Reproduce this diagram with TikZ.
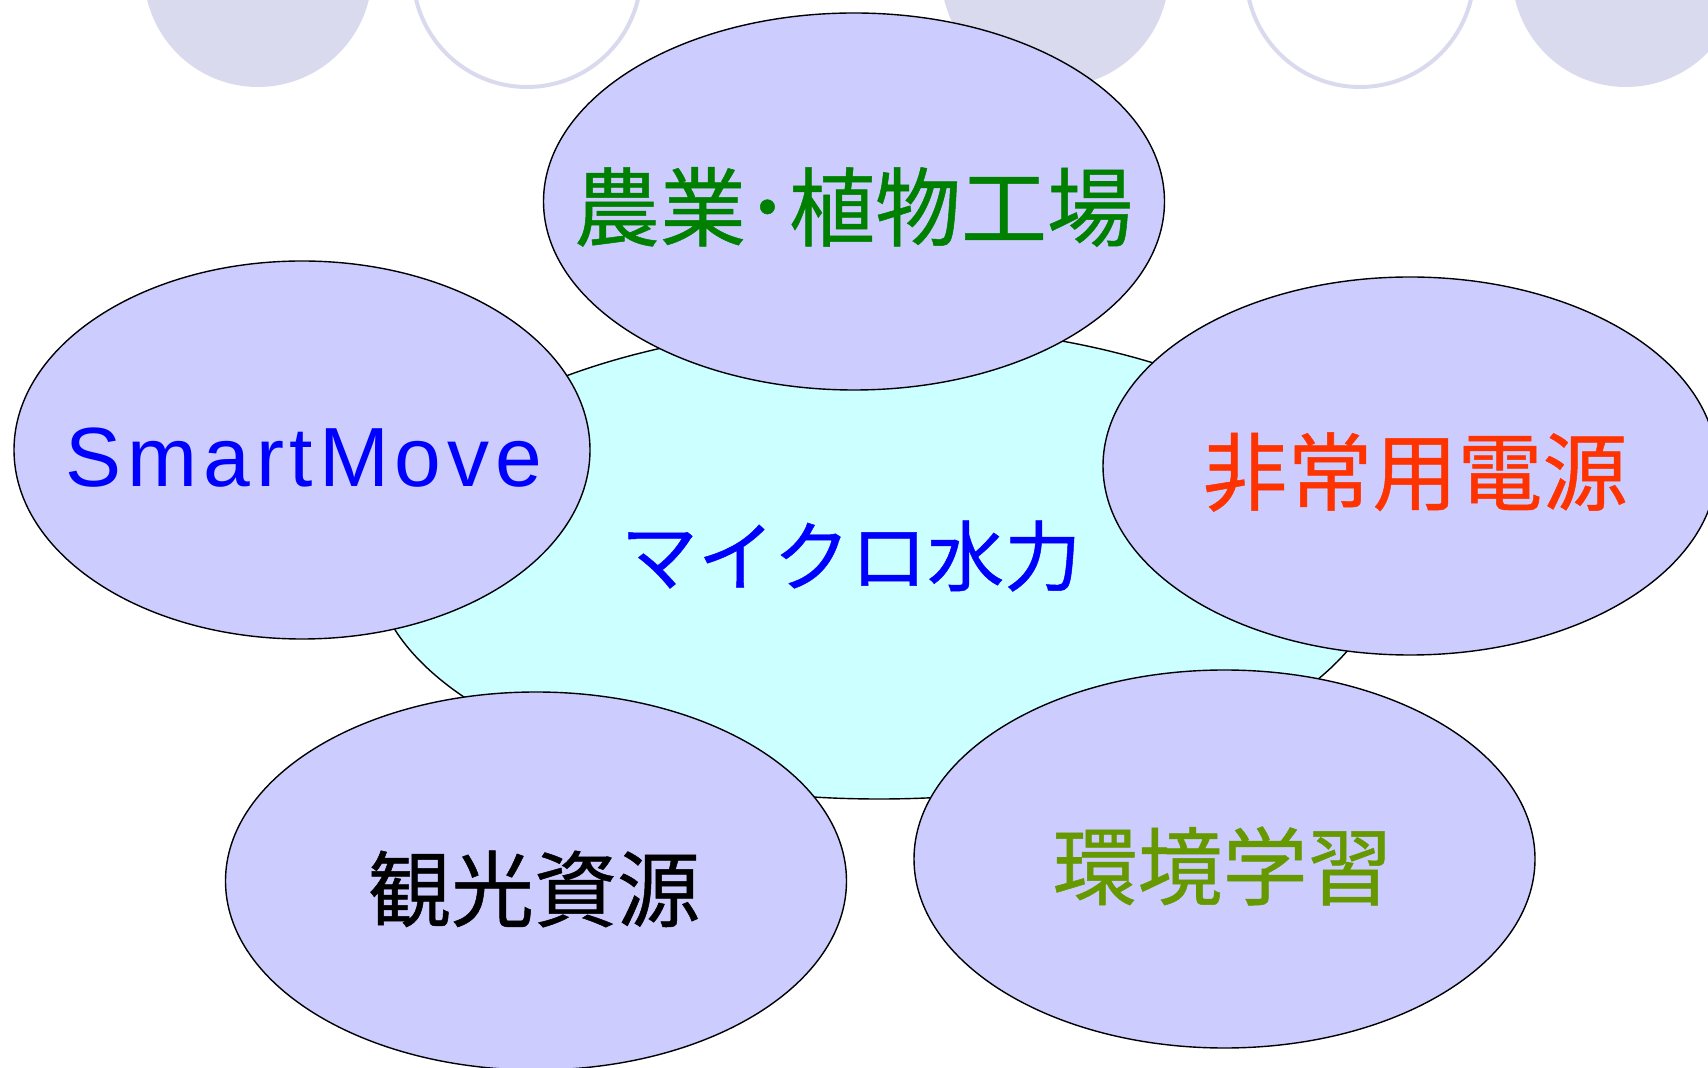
\documentclass[tikz,border=0pt]{standalone}
\usepackage{fontspec}
\usepackage{tikz}
\usetikzlibrary{shapes.geometric}
\newfontfamily\jpfont[FakeBold=0.6]{Noto Sans CJK JP}
\newfontfamily\enfont[LetterSpace=7]{Liberation Sans}
\definecolor{deco}{RGB}{218,218,238}
\definecolor{bubblefill}{RGB}{204,204,255}
\definecolor{corefill}{RGB}{204,255,255}
\definecolor{leafgreen}{RGB}{0,128,0}
\definecolor{studygreen}{RGB}{102,153,0}
\definecolor{alertred}{RGB}{255,51,0}

\begin{document}
\begin{tikzpicture}[x=0.5pt,y=-0.5pt,
    bubble/.style={ellipse,draw=black,line width=0.7pt,fill=bubblefill,inner sep=0pt,outer sep=0pt},
    jp/.style={font=\jpfont\fontsize{#1}{#1}\selectfont}]
    \clip (0,0) rectangle (1708,1068);
    % row of circles along the top edge
    \fill[deco] (258,-27) circle (114) (1055,-27) circle (114) (1626,-27) circle (114);
    \draw[deco,line width=2pt] (527,-27) circle (114) (1360,-27) circle (114);
    % centre
    \node[bubble,fill=corefill,minimum width=505pt,minimum height=237pt] (core) at (879,562) {};
    \node[jp=38.5pt,text=blue] (core-text) at (851,556) {マイクロ水力};
    % surrounding uses
    \node[bubble,minimum width=310.5pt,minimum height=188.5pt] (agri) at (854,201.5) {};
    \node[bubble,minimum width=288pt,minimum height=189pt] (move) at (302,450) {};
    \node[bubble,minimum width=307pt,minimum height=189pt] (emergency) at (1410,466) {};
    \node[bubble,minimum width=310.5pt,minimum height=189pt] (tourism) at (536,881) {};
    \node[bubble,minimum width=310.5pt,minimum height=189pt] (study) at (1224.5,859) {};
    \node[jp=43pt,text=leafgreen] (agri-text) at (853.5,207) {農業･植物工場};
    \node[font=\enfont\fontsize{42pt}{42pt}\selectfont,text=blue] (move-text) at (304,458) {SmartMove};
    \node[jp=42.5pt,text=alertred] (emergency-text) at (1415,472) {非常用電源};
    \node[jp=41.5pt,text=black] (tourism-text) at (534,889) {観光資源};
    \node[jp=42.5pt,text=studygreen] (study-text) at (1222.5,866) {環境学習};
\end{tikzpicture}
\end{document}
